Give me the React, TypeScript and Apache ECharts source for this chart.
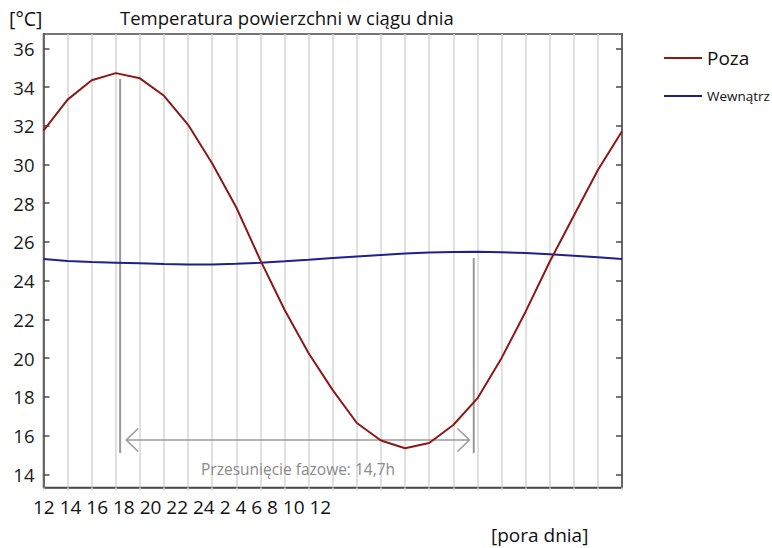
import React, { useEffect, useRef } from "react";
import * as echarts from "echarts";

// hour offsets from 12:00 (noon) to 12:00 next day
const hours = [0, 1, 2, 3, 4, 5, 6, 7, 8, 9, 10, 11, 12, 13, 14, 15, 16, 17, 18, 19, 20, 21, 22, 23, 24];
const hourTickLabels = ["12", "14", "16", "18", "20", "22", "24", "2", "4", "6", "8", "10", "12"];
const seriesNames = ["Poza", "Wewnątrz"];
const pozaValues = [31.75, 33.35, 34.35, 34.72, 34.45, 33.55, 32.05, 30.05, 27.78, 25.05, 22.5, 20.25, 18.35, 16.65, 15.75, 15.35, 15.62, 16.55, 17.92, 20.0, 22.4, 24.98, 27.35, 29.72, 31.72];
const wewnatrzValues = [25.12, 25.02, 24.96, 24.93, 24.9, 24.86, 24.84, 24.84, 24.87, 24.93, 25.0, 25.08, 25.17, 25.25, 25.33, 25.4, 25.45, 25.48, 25.49, 25.47, 25.43, 25.37, 25.29, 25.21, 25.12];
const yTickValues = [14, 16, 18, 20, 22, 24, 26, 28, 30, 32, 34, 36];
const yMin = 13.32;
const yMax = 36.74;

const titleText = "Temperatura powierzchni w ciągu dnia";
const yUnitText = "[°C]";
const xUnitText = "[pora dnia]";
const phaseShiftText = "Przesunięcie fazowe: 14,7h";
// phase-shift annotation in data units (hour offset, °C)
const phaseStartHour = 3.18;
const phaseEndHour = 17.85;
const phaseStartTop = 34.42;
const phaseEndTop = 25.17;
const phaseLinesBottom = 15.1;
const arrowLevel = 15.77;
const arrowStartHour = 3.43;
const arrowEndHour = 17.67;

const FONT = "'Open Sans', 'Noto Sans', sans-serif";
const RED = "#8e1818";
const BLUE = "#1f1f8e";
const GRAY = "#9a9a9a";

export default function App() {
  const ref = useRef<HTMLDivElement>(null);

  useEffect(() => {
    if (!ref.current) return;
    const chart = echarts.init(ref.current, undefined, { renderer: "svg" });

    const yAxisBase = {
      type: "value" as const,
      min: yMin,
      max: yMax,
      splitLine: { show: false },
      axisLine: { show: true, lineStyle: { color: "#4a4a4a", width: 1.5 } },
      axisTick: {
        show: true,
        inside: true,
        length: 6,
        customValues: yTickValues,
        lineStyle: { color: "#4a4a4a", width: 1.5 },
      },
    };

    chart.setOption({
      animation: false,
      textStyle: { fontFamily: FONT },
      grid: {
        left: 43.5,
        right: 150,
        top: 34,
        bottom: 60.5,
        show: true,
        borderColor: "#4a4a4a",
        borderWidth: 1.5,
        backgroundColor: "transparent",
      },
      legend: [
        {
          data: [seriesNames[0]],
          left: 659,
          top: 43,
          icon: "rect",
          itemWidth: 38,
          itemHeight: 2,
          selectedMode: false,
          textStyle: { fontSize: 19, lineHeight: 20, color: "#111", fontFamily: FONT, padding: [0, 0, 0, 0] },
        },
        {
          data: [seriesNames[1]],
          left: 659,
          top: 84,
          icon: "rect",
          itemWidth: 38,
          itemHeight: 2,
          selectedMode: false,
          textStyle: { fontSize: 13.5, lineHeight: 14, color: "#111", fontFamily: FONT, padding: [0, 0, 0, 0] },
        },
      ],
      xAxis: {
        type: "value",
        min: 0,
        max: 24,
        interval: 1,
        axisLabel: { show: false },
        axisLine: { show: true, lineStyle: { color: "#4a4a4a", width: 1.5 } },
        axisTick: { show: true, length: 3, lineStyle: { color: "#d6d6d6", width: 1.5 } },
        splitLine: { show: true, lineStyle: { color: "#d6d6d6", width: 1.5 } },
      },
      yAxis: [
        {
          ...yAxisBase,
          position: "left",
          axisLabel: {
            show: true,
            customValues: yTickValues,
            margin: 9,
            fontSize: 18.5,
            color: "#1a1a1a",
            fontFamily: FONT,
          },
        },
        {
          ...yAxisBase,
          position: "right",
          axisLabel: { show: false },
        },
      ],
      series: [
        {
          name: seriesNames[1],
          type: "line",
          symbol: "none",
          color: BLUE,
          lineStyle: { color: BLUE, width: 2 },
          data: hours.map((h, i) => [h, wewnatrzValues[i]]),
          z: 3,
        },
        {
          name: seriesNames[0],
          type: "line",
          symbol: "none",
          color: RED,
          lineStyle: { color: RED, width: 2 },
          data: hours.map((h, i) => [h, pozaValues[i]]),
          z: 4,
        },
      ],
    });

    const px = (x: number, y: number) => chart.convertToPixel({ seriesIndex: 0 }, [x, y]) as number[];
    const s1 = px(phaseStartHour, phaseStartTop);
    const s2 = px(phaseStartHour, phaseLinesBottom);
    const e1 = px(phaseEndHour, phaseEndTop);
    const e2 = px(phaseEndHour, phaseLinesBottom);
    const a1 = px(arrowStartHour, arrowLevel);
    const a2 = px(arrowEndHour, arrowLevel);
    const ch = 12;
    const cw = 11.5;
    const lineStyle = { stroke: GRAY, lineWidth: 2, fill: null };
    const arrowStyle = { stroke: GRAY, lineWidth: 1.5, fill: null };

    chart.setOption({
      graphic: [
        { type: "line", z: 1, shape: { x1: s1[0], y1: s1[1], x2: s2[0], y2: s2[1] }, style: lineStyle },
        { type: "line", z: 1, shape: { x1: e1[0], y1: e1[1], x2: e2[0], y2: e2[1] }, style: lineStyle },
        { type: "line", z: 1, shape: { x1: a1[0], y1: a1[1], x2: a2[0], y2: a2[1] }, style: arrowStyle },
        {
          type: "polyline",
          z: 1,
          shape: { points: [[a1[0] + ch, a1[1] - cw], [a1[0], a1[1]], [a1[0] + ch, a1[1] + cw]] },
          style: arrowStyle,
        },
        {
          type: "polyline",
          z: 1,
          shape: { points: [[a2[0] - ch, a2[1] - cw], [a2[0], a2[1]], [a2[0] - ch, a2[1] + cw]] },
          style: arrowStyle,
        },
        {
          type: "text",
          left: 201,
          top: 461,
          style: { text: phaseShiftText, fontSize: 15.5, fill: "#8a8a8a", fontFamily: FONT },
        },
        {
          type: "text",
          left: 9,
          top: 8,
          style: { text: yUnitText, fontSize: 19.5, fill: "#111", fontFamily: FONT },
        },
        {
          type: "text",
          left: 120,
          top: 8,
          style: { text: titleText, fontSize: 18.5, fill: "#111", fontFamily: FONT },
        },
        {
          type: "text",
          left: 33,
          top: 497,
          style: { text: hourTickLabels.join(" "), fontSize: 19, fill: "#111", fontFamily: FONT },
        },
        {
          type: "text",
          left: 491,
          top: 525,
          style: { text: xUnitText, fontSize: 19, fill: "#111", fontFamily: FONT },
        },
      ],
    });

    return () => chart.dispose();
  }, []);

  return (
    <div
      ref={ref}
      style={{ position: "fixed", left: 0, top: 0, width: 772, height: 548, background: "#fff" }}
    />
  );
}
